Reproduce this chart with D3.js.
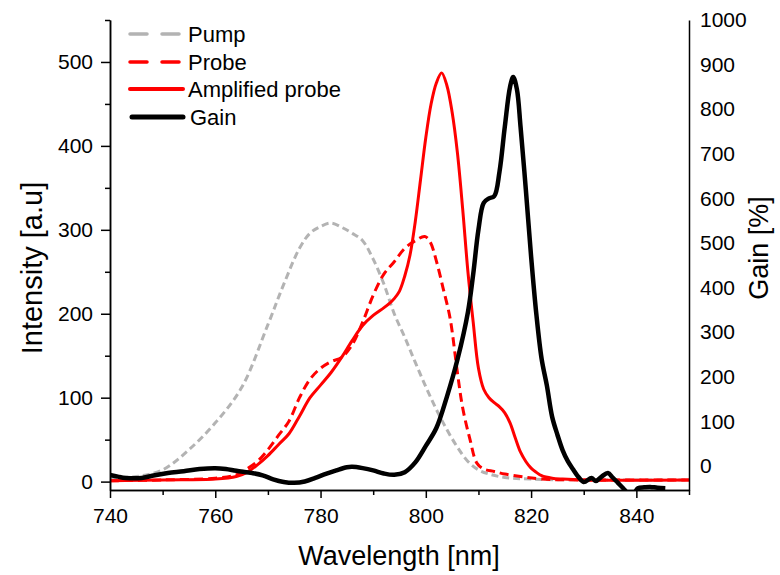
<!DOCTYPE html>
<html><head><meta charset="utf-8">
<script src="https://cdn.jsdelivr.net/npm/d3@7"></script>
<style>
body{margin:0;background:#fff;}
text{font-family:"Liberation Sans",Arial,sans-serif;fill:#000;}
</style></head>
<body><svg id="c" width="780" height="575"></svg>
<script>
// wavelength [nm], intensity [a.u]
const pumpX = [740,745,750,755,760,765,770,773,776,778,780,782,784,786,788,790,792,794,796,798,800,802,804,806,808,810,812,815,820,830,850];
const pumpY = [5,6,14,38,70,112,187,235,278,296,304,308,303,296,287,265,236,200,172,142,113,86,62,41,24,14,9,5,3,2,2];

const probeX = [740,750,760,764,766,768,770,772,774,776,778,780,782,784,786,788,790,792,794,796,798,799.8,800.8,802,803.3,804.6,806,807,808.4,809.7,811,813,815,818,822,830,850];
const probeY = [1,2,4,8,15,24,38,55,72,100,122,135,143,148,163,190,222,247,262,278,287,292,286,263,230,195,130,88,50,22,15,12,9,6,3,2,2];

const ampX = [740,750,760,764,766,768,770,772,774,776,778,780,782,784,786,788,790,792,793.2,794,795,796,797,798,799,800,801,802,803,804,805,806,807,808,809,810,811,812,813,814,815,816,817,818,819,820,821,822,824,826,830,850];
const ampY = [1,2,3,6,11,20,31,44,57,78,100,115,130,148,168,186,198,207,213,218,227,245,270,310,360,410,450,475,487,472,440,392,325,250,190,135,110,100,94,89,82,70,52,35,24,16,11,7,4,3,2,2];

// gain [%]
const gainX = [740,741.5,743,746,748,751,754,757,760,762,764,767,769,771,773,775,777,779,781,783,785,786,788,790,792,794,796,798,800,802,804,806,808,809,810,811,812,813,814,815,816,816.6,817.3,818,819,820,821,822,823,824,825,826,827,828,829,830,831.5,832.3,833.4,834.6,835.5,836.5,837.5,838.5,839.5,840.3,841.5,842.6,844,845.5];
const gainY = [-20,-24,-27,-27,-22,-16,-12,-7,-5,-7,-11,-16,-21,-30,-36,-38,-35,-27,-18,-10,-3,-2,-5,-10,-17,-20,-14,8,45,85,155,238,345,430,530,590,600,605,660,760,850,872,845,760,620,470,340,240,180,110,70,35,10,-8,-25,-36,-27,-34,-24,-16,-26,-38,-50,-62,-62,-50,-48,-47,-49,-50];

const xTicks = [740,760,780,800,820,840];
const yLeftTicks = [0,100,200,300,400,500];
const yRightTicks = [0,100,200,300,400,500,600,700,800,900,1000];
const legendLabels = ["Pump","Probe","Amplified probe","Gain"];

const svg = d3.select("#c");
const L = 110, R = 689, T = 20, B = 490;
const x = d3.scaleLinear().domain([740,850]).range([L,R]);
const yL = d3.scaleLinear().domain([-10,550]).range([B,T]);
const yR = d3.scaleLinear().domain([-54,1000]).range([B,T]);

svg.append("defs").append("clipPath").attr("id","clip")
  .append("rect").attr("x",L).attr("y",T).attr("width",R-L).attr("height",B-T);

const g = svg.append("g").attr("clip-path","url(#clip)");
const mk = (xs,ys) => xs.map((v,i)=>[v,ys[i]]);
const lineL = d3.line().x(d=>x(d[0])).y(d=>yL(d[1])).curve(d3.curveCatmullRom);
const lineR = d3.line().x(d=>x(d[0])).y(d=>yR(d[1])).curve(d3.curveCatmullRom);

g.append("path").attr("d",lineL(mk(pumpX,pumpY))).attr("fill","none")
  .attr("stroke","#b3b3b3").attr("stroke-width",3).attr("stroke-dasharray","7,4");
g.append("path").attr("d",lineL(mk(ampX,ampY))).attr("fill","none")
  .attr("stroke","#ff0000").attr("stroke-width",3);
g.append("path").attr("d",lineL(mk(probeX,probeY))).attr("fill","none")
  .attr("stroke","#ff0000").attr("stroke-width",3).attr("stroke-dasharray","9,5");
g.append("path").attr("d",lineR(mk(gainX,gainY))).attr("fill","none")
  .attr("stroke","#000").attr("stroke-width",4.5).attr("stroke-linejoin","round");

// axes
const fs = "21px";
svg.append("g").attr("transform",`translate(0,${B})`)
  .call(d3.axisBottom(x).tickValues(xTicks).tickSize(8).tickPadding(10).tickSizeOuter(0));
svg.append("g").attr("transform",`translate(0,${B})`)
  .call(d3.axisBottom(x).tickValues([750,770,790,810,830,850]).tickSize(5).tickFormat("").tickSizeOuter(0));
svg.append("g").attr("transform",`translate(${L},0)`)
  .call(d3.axisLeft(yL).tickValues(yLeftTicks).tickSize(9).tickPadding(8).tickSizeOuter(0));
svg.append("g").attr("transform",`translate(${L},0)`)
  .call(d3.axisLeft(yL).tickValues([50,150,250,350,450,550]).tickSize(5).tickFormat("").tickSizeOuter(0));
svg.append("g").attr("transform",`translate(${R},0)`)
  .call(d3.axisRight(yR).tickValues(yRightTicks).tickFormat(d3.format("d")).tickSize(0).tickPadding(11).tickSizeOuter(0));
svg.selectAll(".domain").attr("stroke","#000").attr("stroke-width",1.5);
svg.selectAll(".tick line").attr("stroke","#000").attr("stroke-width",1.5);
svg.selectAll(".tick text").attr("font-size",fs).attr("font-family","Liberation Sans, Arial, sans-serif").attr("fill","#000");

// titles
svg.append("text").attr("x",399).attr("y",565).attr("text-anchor","middle")
  .attr("font-size","27px").text("Wavelength [nm]");
svg.append("text").attr("transform","translate(42,268) rotate(-90)").attr("text-anchor","middle")
  .attr("font-size","29px").text("Intensity [a.u]");
svg.append("text").attr("transform","translate(768,248) rotate(-90)").attr("text-anchor","middle")
  .attr("font-size","27px").text("Gain [%]");

// legend
const legY = [34,62,89,117];
const legStyle = [
  {c:"#b3b3b3",w:3.5,d:"17,15",x1:130,x2:179},
  {c:"#ff0000",w:3.5,d:"17,15",x1:130,x2:179},
  {c:"#ff0000",w:4,d:null,x1:130,x2:183},
  {c:"#000",w:5,d:null,x1:132,x2:183}
];
legendLabels.forEach((t,i)=>{
  const s = legStyle[i];
  const ln = svg.append("line").attr("x1",s.x1).attr("x2",s.x2).attr("y1",legY[i]).attr("y2",legY[i])
    .attr("stroke",s.c).attr("stroke-width",s.w).attr("stroke-linecap","round");
  if (s.d) ln.attr("stroke-dasharray",s.d);
  svg.append("text").attr("x",i===3?190:188).attr("y",legY[i]+8).attr("font-size","22px").text(t);
});
</script></body></html>
